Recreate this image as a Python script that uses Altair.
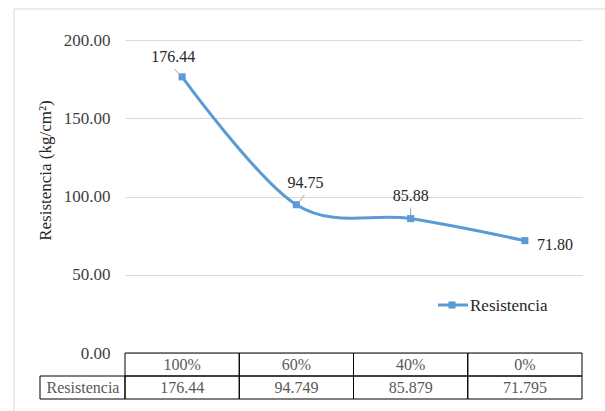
import altair as alt
import pandas as pd

# Compressive strength by replacement percentage
categories = ["100%", "60%", "40%", "0%"]
resistencia = [176.44, 94.749, 85.879, 71.795]
y_ticks = [0, 50, 100, 150, 200]
series_name = "Resistencia"

FONT = "Liberation Serif"
BLUE = "#5b9bd5"
W, H = 457, 313

df = pd.DataFrame({"idx": list(range(len(categories))), "cat": categories, "val": resistencia})
df["lbl"] = df["val"].map(lambda v: f"{v:.2f}")
df["tbl"] = [str(v) for v in resistencia]

xs = alt.Scale(domain=[-0.5, len(categories) - 0.5])
ys = alt.Scale(domain=[0, 200])
X = alt.X("idx:Q", scale=xs, axis=None)
Y = alt.Y(
    "val:Q",
    scale=ys,
    axis=alt.Axis(
        values=y_ticks,
        format=".2f",
        grid=True,
        gridColor="#d9d9d9",
        gridWidth=1,
        domain=False,
        ticks=False,
        labelFont=FONT,
        labelFontSize=17,
        labelColor="#404040",
        labelPadding=15,
        title="Resistencia (kg/cm²)",
        titleFont=FONT,
        titleFontSize=17,
        titleFontWeight="normal",
        titleColor="#262626",
        titleX=-80,
        titleY=130,
        titleAlign="center",
        titleBaseline="middle",
    ),
)

base = alt.Chart(df)
one = alt.Chart(pd.DataFrame({"k": [0]}))

# outer chart frame
frame = one.mark_rect(filled=False, stroke="#d9d9d9", strokeWidth=1).encode(
    x=alt.value(-111), x2=alt.value(520), y=alt.value(-31), y2=alt.value(420)
)

line = base.mark_line(interpolate="cardinal", tension=0, color=BLUE, strokeWidth=3).encode(x=X, y=Y)
points = base.mark_point(shape="square", filled=True, size=50, color=BLUE, opacity=1).encode(x=X, y=Y)

# data labels and their leader lines
label_style = {
    0: dict(dx=-9, dy=-20, align="center", lead=(-8, -8, -1, -1)),
    1: dict(dx=9, dy=-22, align="center", lead=(8, -10, 2, -2)),
    2: dict(dx=0, dy=-23, align="center", lead=(0, -11, 0, -3)),
    3: dict(dx=12, dy=4, align="left", lead=None),
}
label_layers = []
for i, st in label_style.items():
    sub = base.transform_filter(alt.datum.idx == i)
    label_layers.append(
        sub.mark_text(
            font=FONT, fontSize=16, color="#262626", align=st["align"],
            baseline="middle", dx=st["dx"], dy=st["dy"],
        ).encode(x=X, y=Y, text="lbl:N")
    )
    if st["lead"]:
        x0, y0, x1, y1 = st["lead"]
        label_layers.append(
            sub.mark_rule(
                color="#a6a6a6", strokeWidth=1,
                xOffset=x0, yOffset=y0, x2Offset=x1, y2Offset=y1,
            ).encode(x=X, y=Y, x2="idx:Q", y2="val:Q")
        )

# data table under the plot
cells = base.transform_calculate(lo="datum.idx - 0.5", hi="datum.idx + 0.5")
row1 = cells.mark_rect(filled=False, stroke="#000000", strokeWidth=1).encode(
    x=alt.X("lo:Q", scale=xs, axis=None), x2="hi:Q", y=alt.value(H), y2=alt.value(H + 23)
)
row2 = cells.mark_rect(filled=False, stroke="#000000", strokeWidth=1).encode(
    x=alt.X("lo:Q", scale=xs, axis=None), x2="hi:Q", y=alt.value(H + 23), y2=alt.value(H + 46)
)
name_cell = one.mark_rect(filled=False, stroke="#000000", strokeWidth=1).encode(
    x=alt.value(-85), x2=alt.value(0), y=alt.value(H + 23), y2=alt.value(H + 46)
)
head_txt = base.mark_text(font=FONT, fontSize=16, color="#595959", baseline="middle").encode(
    x=X, y=alt.value(H + 12), text="cat:N"
)
val_txt = base.mark_text(font=FONT, fontSize=16, color="#595959", baseline="middle").encode(
    x=X, y=alt.value(H + 35), text="tbl:N"
)
name_txt = one.mark_text(font=FONT, fontSize=16, color="#595959", baseline="middle").encode(
    x=alt.value(-42), y=alt.value(H + 35), text=alt.value(series_name)
)

# legend
leg_line = one.mark_rule(color=BLUE, strokeWidth=3).encode(
    x=alt.value(313), x2=alt.value(343), y=alt.value(265)
)
leg_sq = one.mark_point(shape="square", filled=True, size=50, color=BLUE, opacity=1).encode(
    x=alt.value(327), y=alt.value(265)
)
leg_txt = one.mark_text(font=FONT, fontSize=17, color="#262626", align="left", baseline="middle").encode(
    x=alt.value(345), y=alt.value(266), text=alt.value(series_name)
)

chart = (
    alt.layer(
        frame, line, points, *label_layers,
        row1, row2, name_cell, head_txt, val_txt, name_txt,
        leg_line, leg_sq, leg_txt,
    )
    .properties(
        width=W,
        height=H,
        background="white",
        autosize=alt.AutoSizeParams(type="none"),
        padding={"left": 125, "top": 40, "right": 23, "bottom": 58},
    )
    .configure_view(stroke=None)
)

chart.save("out.html", embed_options={"renderer": "svg", "actions": False})
